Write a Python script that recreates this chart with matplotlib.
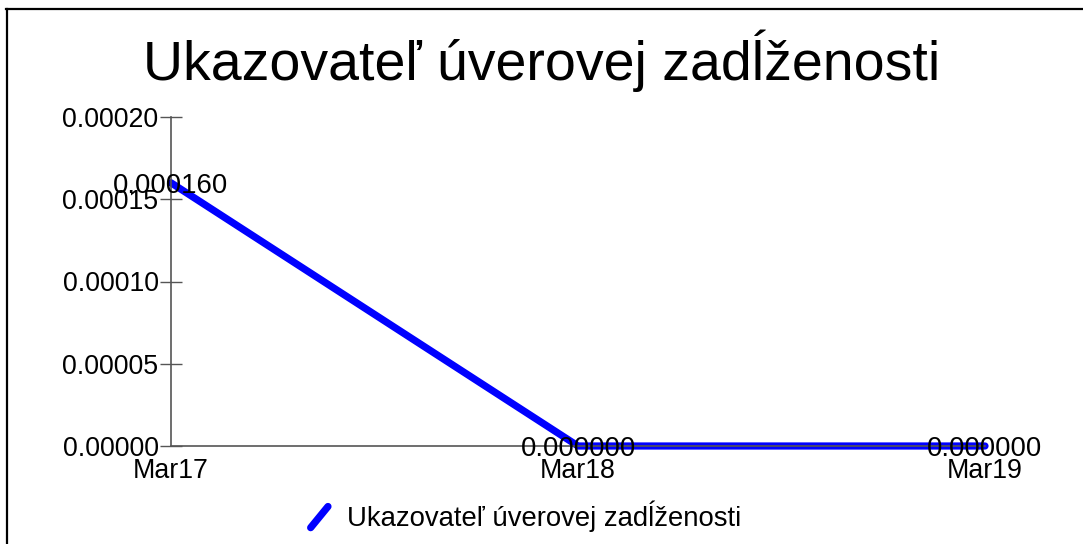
import matplotlib
matplotlib.use("Agg")
import matplotlib.pyplot as plt
from matplotlib.lines import Line2D
from matplotlib.legend_handler import HandlerBase
from matplotlib.ticker import FormatStrFormatter, MultipleLocator

plt.rcParams["font.family"] = ["Liberation Sans", "DejaVu Sans"]

# data
periods = ["Mar17", "Mar18", "Mar19"]
values = [0.000160, 0.000000, 0.000000]
series_name = "Ukazovateľ úverovej zadĺženosti"
title = "Ukazovateľ úverovej zadĺženosti"

blue = "#0000ff"
axis_grey = "#555555"


class SlashHandler(HandlerBase):
    # legend key drawn as a short slanted stroke
    def create_artists(self, legend, orig_handle, xdescent, ydescent,
                       width, height, fontsize, trans):
        x0, x1 = -xdescent + 0.15 * width, -xdescent + 0.85 * width
        y0, y1 = -ydescent - 0.1 * height, -ydescent + 1.0 * height
        line = Line2D([x0, x1], [y0, y1], color=orig_handle.get_color(),
                      lw=orig_handle.get_linewidth(), solid_capstyle="round",
                      transform=trans)
        return [line]


fig = plt.figure(figsize=(10.83, 5.44), dpi=100)
ax = fig.add_axes([171 / 1083, 1 - 446 / 544, 814 / 1083, 329 / 544])

x = list(range(len(periods)))
(line,) = ax.plot(x, values, color=blue, lw=5.2, solid_capstyle="round",
                  clip_on=False, zorder=2, label=series_name)
for xi, v in zip(x, values):
    ax.text(xi, v, f"{v:.6f}", ha="center", va="center_baseline",
            fontsize=19.8, color="black", clip_on=False, zorder=3)

ax.set_xlim(0, 2)
ax.set_ylim(0, 0.0002)
ax.yaxis.set_major_locator(MultipleLocator(0.00005))
ax.yaxis.set_major_formatter(FormatStrFormatter("%.5f"))
ax.set_xticks(x)
ax.set_xticklabels(periods)

for side in ("top", "right"):
    ax.spines[side].set_visible(False)
for side in ("left", "bottom"):
    ax.spines[side].set_color(axis_grey)
    ax.spines[side].set_linewidth(1.2)
    ax.spines[side].set_zorder(2.5)

ax.tick_params(axis="y", direction="inout", length=16, width=1.0,
               color=axis_grey, labelsize=19.3, pad=1)
ax.tick_params(axis="x", length=0, labelsize=19.3, pad=9)

fig.text(0.5, 1 - 80 / 544, title, ha="center", va="baseline", fontsize=40)

fig.legend(handles=[line], labels=[series_name], loc="center",
           bbox_to_anchor=(524 / 1083, 1 - 516 / 544), frameon=False,
           fontsize=19.8, handlelength=0.9, handletextpad=0.55,
           handler_map={Line2D: SlashHandler()})

# partial frame round the figure (left and top edges only show)
fig.add_artist(Line2D([6.5 / 1083, 6.5 / 1083], [0, 1 - 8.5 / 544],
                      color="black", lw=1.6, transform=fig.transFigure))
fig.add_artist(Line2D([6 / 1083, 1], [1 - 8.5 / 544, 1 - 8.5 / 544],
                      color="black", lw=1.6, transform=fig.transFigure))

fig.savefig("out.png", dpi=100)
